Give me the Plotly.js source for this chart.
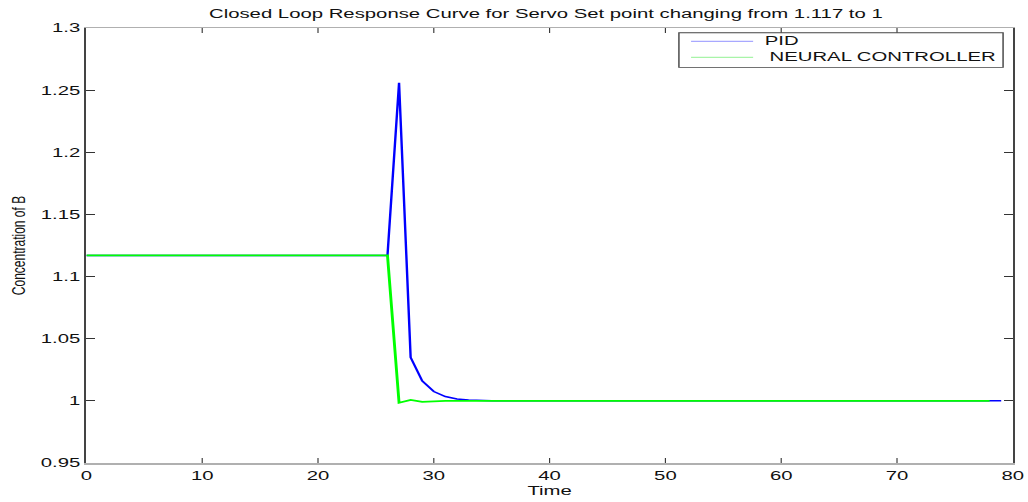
<!DOCTYPE html>
<html>
<head>
<meta charset="utf-8">
<script src="https://cdn.plot.ly/plotly-3.0.1.min.js"></script>
<style>
  html, body { margin: 0; padding: 0; background: #ffffff; overflow: hidden; }
  /* the reference picture is stretched horizontally; reproduce that stretch */
  #wrap { width: 1028px; height: 502px; overflow: hidden; }
  #chart { width: 642.5px; height: 502px; transform: scaleX(1.6); transform-origin: 0 0; }
</style>
</head>
<body>
<div id="wrap"><div id="chart"></div></div>
<script>
// ---- data ----
const timePID = [0, 26, 27, 28, 29, 30, 31, 32, 33, 34, 35, 79];
const pidValues = [1.117, 1.117, 1.256, 1.035, 1.016, 1.0075, 1.0035, 1.0015, 1.0006, 1.0002, 1.0, 1.0];

const timeNN = [0, 26, 27, 28, 29, 30, 31, 78];
const nnValues = [1.117, 1.117, 0.9985, 1.0008, 0.9992, 0.9998, 1.0, 1.0];

const seriesNames = ['PID', 'NEURAL CONTROLLER'];
const seriesColors = ['#0000ff', '#00ff00'];

const xTicks = [0, 10, 20, 30, 40, 50, 60, 70, 80];
const yTicks = [0.95, 1.0, 1.05, 1.1, 1.15, 1.2, 1.25, 1.3];
const yTickText = ['0.95', '1', '1.05', '1.1', '1.15', '1.2', '1.25', '1.3'];

const chartTitle = 'Closed Loop Response Curve for Servo Set point changing from 1.117 to 1';
const xTitle = 'Time';
const yTitle = 'Concentration of B';

// ---- drawing ----
const FONT = 'Liberation Sans, Arial, Helvetica, sans-serif';
const fs = 12.7;

const traces = [
  { x: timePID, y: pidValues, type: 'scatter', mode: 'lines', name: seriesNames[0],
    line: { color: seriesColors[0], width: 1.5 }, showlegend: false },
  { x: timeNN, y: nnValues, type: 'scatter', mode: 'lines', name: seriesNames[1],
    line: { color: seriesColors[1], width: 1.8 }, showlegend: false }
];

// legend box (paper coordinates)
const lgX0 = 0.6396, lgX1 = 0.9895, lgY0 = 0.9094, lgY1 = 0.9892;
const lgLineX0 = 0.6527, lgLineX1 = 0.7197;
const lgRowY = [0.9692, 0.9324];
const lgTextX = [0.7300, 0.7357];
const lgLineColors = ['#a8a8ff', '#a8f4a8'];

const shapes = [
  { type: 'rect', xref: 'paper', yref: 'paper', x0: lgX0, x1: lgX1, y0: lgY0, y1: lgY1,
    line: { color: '#444', width: 0.9 }, fillcolor: 'rgba(255,255,255,1)', layer: 'above' }
];
const annotations = [];
seriesNames.forEach((nm, i) => {
  shapes.push({ type: 'line', xref: 'paper', yref: 'paper', x0: lgLineX0, x1: lgLineX1,
    y0: lgRowY[i], y1: lgRowY[i], line: { color: lgLineColors[i], width: 1.2 }, layer: 'above' });
  annotations.push({ xref: 'paper', yref: 'paper', x: lgTextX[i], y: lgRowY[i], text: nm,
    showarrow: false, xanchor: 'left', yanchor: 'middle', borderpad: 0,
    font: { family: FONT, size: fs, color: '#111' } });
});

const layout = {
  width: 642.5,
  height: 502,
  margin: { l: 54.2, r: 9.56, t: 28.3, b: 38.7, pad: 0 },
  paper_bgcolor: '#ffffff',
  plot_bgcolor: '#ffffff',
  showlegend: false,
  title: {
    text: chartTitle,
    font: { family: FONT, size: fs, color: '#111' },
    xref: 'container', yref: 'container', x: 0.531, y: 0.972,
    xanchor: 'center', yanchor: 'middle'
  },
  xaxis: {
    range: [0, 80],
    tickmode: 'array', tickvals: xTicks,
    ticks: 'inside', ticklen: 5, tickwidth: 0.7, tickcolor: '#333',
    showline: true, linecolor: '#b0b0b0', linewidth: 1.5, mirror: 'ticks',
    showgrid: false, zeroline: false,
    tickfont: { family: FONT, size: fs, color: '#111' },
    title: { text: xTitle, font: { family: FONT, size: fs, color: '#111' }, standoff: 4 }
  },
  yaxis: {
    range: [0.95, 1.3],
    tickmode: 'array', tickvals: yTicks, ticktext: yTickText,
    ticks: 'inside', ticklen: 5.4, tickwidth: 1, tickcolor: '#333',
    showline: true, linecolor: '#444', linewidth: 1.3, mirror: 'ticks',
    showgrid: false, zeroline: false,
    tickfont: { family: FONT, size: fs, color: '#111' },
    title: { text: yTitle, font: { family: FONT, size: 12, color: '#111' }, standoff: 6 }
  },
  shapes: shapes,
  annotations: annotations
};

Plotly.newPlot('chart', traces, layout, { displayModeBar: false, staticPlot: true });
</script>
</body>
</html>
